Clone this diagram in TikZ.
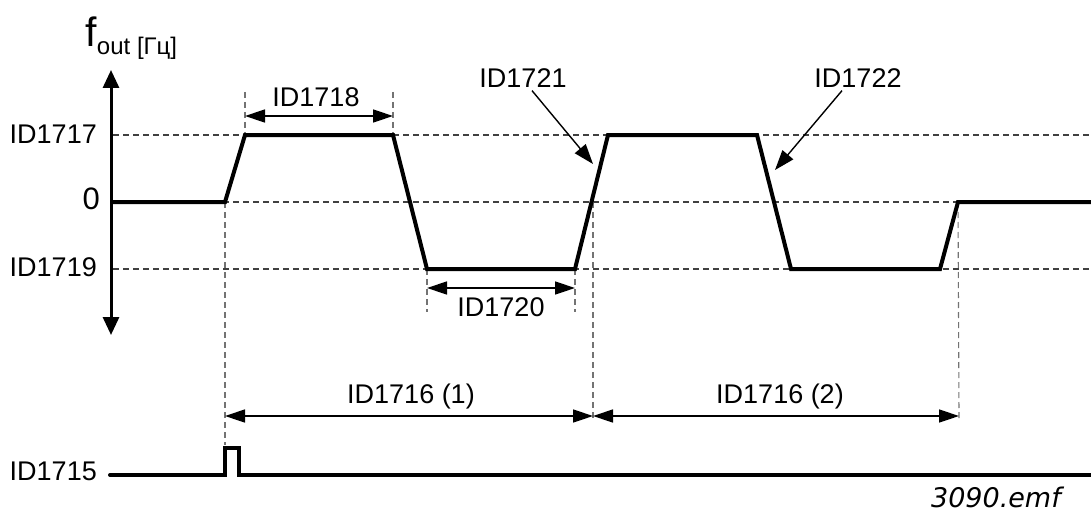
\documentclass[tikz,border=0pt]{standalone}
\usepackage{fontspec}
\setmainfont{Liberation Sans}
\newfontfamily\emffont{DejaVu Sans}
\usetikzlibrary{arrows.meta}
\begin{document}
\begin{tikzpicture}[x=1pt,y=-1pt,
  lbl/.style={inner sep=0pt,font=\fontsize{27}{31}\selectfont},
  guide/.style={dashed,dash pattern=on 6pt off 4pt,line width=1.1pt,draw=black!75},
  vguide/.style={dashed,dash pattern=on 6pt off 4pt,line width=1.1pt,draw=black!55},
  wave/.style={line width=4pt,line join=miter},
  dim/.style={line width=1.4pt,{Triangle[length=20pt,width=13pt]}-{Triangle[length=20pt,width=13pt]}},
  pointer/.style={line width=1.4pt,-{Triangle[length=20pt,width=14pt]}},
  axis/.style={line width=3pt,{Triangle[length=18pt,width=16pt]}-{Triangle[length=18pt,width=16pt]}}]
\useasboundingbox (0,0) rectangle (1091,516);
% waveform coordinates
\coordinate (a0) at (111,202);
\coordinate (r1) at (225,202);
\coordinate (t1) at (245,135);
\coordinate (t2) at (393,135);
\coordinate (b1) at (427,269);
\coordinate (b2) at (575,269);
\coordinate (z1) at (593,202);
\coordinate (t3) at (608,135);
\coordinate (t4) at (757,135);
\coordinate (b3) at (791,269);
\coordinate (b4) at (940,269);
\coordinate (z2) at (958,202);
\coordinate (e0) at (1091,202);
% guide line ends
\coordinate (h1s) at (113,135); \coordinate (h1e) at (1091,135);
\coordinate (h0s) at (113,202);
\coordinate (h2s) at (113,269); \coordinate (h2e) at (1091,269);
\coordinate (v1top) at (245,92);
\coordinate (v2top) at (393,92);
\coordinate (v0bot) at (225,445);
\coordinate (v3bot) at (427,312);
\coordinate (v4bot) at (575,312);
\coordinate (v5bot) at (593,418);
\coordinate (v6bot) at (959,418);
% dashed guides
\draw[guide] (h1s) -- (h1e);
\draw[guide] (h0s) -- (e0);
\draw[guide] (h2s) -- (h2e);
\draw[vguide] (v1top) -- (t1);
\draw[vguide] (v2top) -- (t2);
\draw[vguide] (r1) -- (v0bot);
\draw[vguide] (b1) -- (v3bot);
\draw[vguide] (b2) -- (v4bot);
\draw[vguide] (z1) -- (v5bot);
\draw[vguide] (z2) -- (v6bot);
% axis
\coordinate (ax1) at (111,70);
\coordinate (ax2) at (111,335);
\draw[axis] (ax1) -- (ax2);
% waveform
\draw[wave] (a0) -- (r1) -- (t1) -- (t2) -- (b1) -- (b2) -- (t3) -- (t4) -- (b3) -- (b4) -- (z2) -- (e0);
% dimension arrows
\coordinate (d1a) at (245,116); \coordinate (d1b) at (393,116);
\coordinate (d2a) at (427,288); \coordinate (d2b) at (575,288);
\coordinate (d3a) at (225,416); \coordinate (d3b) at (593,416);
\coordinate (d4a) at (593,416); \coordinate (d4b) at (959,416);
\draw[dim] (d1a) -- (d1b);
\draw[dim] (d2a) -- (d2b);
\draw[dim] (d3a) -- (d3b);
\draw[dim] (d4a) -- (d4b);
% labels
\node[lbl] (l1718) at (316,97) {ID1718};
\node[lbl] (l1720) at (501,307) {ID1720};
\node[lbl] (l17161) at (411,397) {ID1716 (1)};
\node[lbl] (l17162) at (780,397) {ID1716 (2)};
\node[lbl] (l1721) at (523,78) {ID1721};
\node[lbl] (l1722) at (858,78) {ID1722};
\node[lbl,anchor=east] (l1717) at (97,134) {ID1717};
\node[lbl,anchor=east,font=\fontsize{31}{34}\selectfont] (l0) at (100,199) {0};
\node[lbl,anchor=east] (l1719) at (97,267) {ID1719};
\node[lbl,anchor=east] (l1715) at (97,471) {ID1715};
% pointers
\coordinate (p1) at (593,164);
\coordinate (p2) at (775,170);
\draw[pointer] (l1721.south) ++(9,3) -- (p1);
\draw[pointer] (l1722.south) ++(-16,3) -- (p2);
% f_out label
\node[inner sep=0pt,anchor=base west,font=\fontsize{41}{44}\selectfont] (fl) at (85,47) {f};
\node[inner sep=0pt,anchor=base west,font=\fontsize{24}{28}\selectfont] (fsub) at (fl.base east) [yshift=-8pt] {out [Гц]};
% trigger pulse
\coordinate (s0) at (110,475);
\coordinate (s1) at (225,475);
\coordinate (s2) at (225,448);
\coordinate (s3) at (239,448);
\coordinate (s4) at (239,475);
\coordinate (s5) at (1091,475);
\draw[line width=4pt,line cap=round,line join=miter] (s0) -- (s1) -- (s2) -- (s3) -- (s4) -- (s5);
% file name
\node[inner sep=0pt,anchor=east,font=\emffont\itshape\fontsize{27}{30}\selectfont] (emf) at (1061,497) {3090.emf};
\end{tikzpicture}
\end{document}
